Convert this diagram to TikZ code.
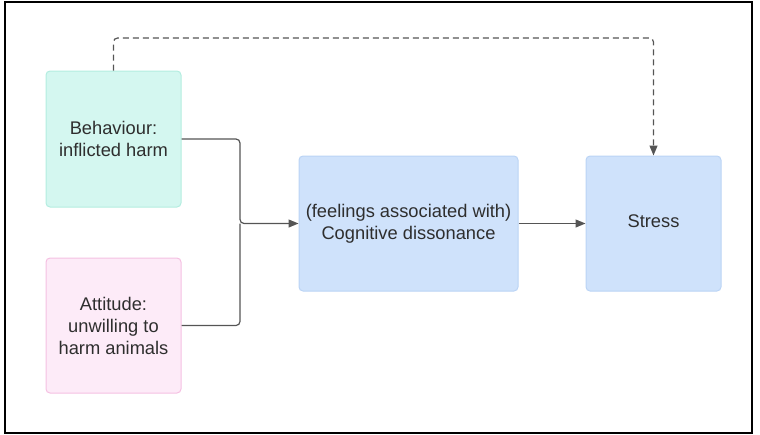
\documentclass[tikz,border=0pt]{standalone}
\usepackage{fontspec}
\setmainfont{Liberation Sans}
\usetikzlibrary{arrows.meta}
\definecolor{tealfill}{HTML}{D4F7F0}
\definecolor{tealdraw}{HTML}{B3EDE0}
\definecolor{pinkfill}{HTML}{FDEBF8}
\definecolor{pinkdraw}{HTML}{F5C0E2}
\definecolor{bluefill}{HTML}{CFE2FB}
\definecolor{bluedraw}{HTML}{BBD4F5}
\definecolor{txt}{HTML}{2E2E2E}
\definecolor{conn}{HTML}{555555}
\tikzset{
  x=1pt, y=-1pt,
  box/.style={rectangle, rounded corners=4pt, line width=1pt, inner sep=0pt, align=center,
    font=\fontsize{18.3}{22}\selectfont, text=txt},
  link/.style={draw=conn, line width=1.2pt, rounded corners=4pt, -{Triangle[length=10pt,width=8pt]}},
  dlink/.style={link, dashed, dash pattern=on 6pt off 4pt},
}
\begin{document}
\begin{tikzpicture}
\useasboundingbox (0,0) rectangle (760,434);
\draw[line width=1.8pt, black] (5,2) rectangle (752,433);
\node[box, fill=tealfill, draw=tealdraw, minimum width=135pt, minimum height=136pt] (beh) at (113.5,139) {Behaviour:\\inflicted harm};
\node[box, fill=pinkfill, draw=pinkdraw, minimum width=135pt, minimum height=135pt] (att) at (113.5,325.5) {Attitude:\\unwilling to\\harm animals};
\node[box, fill=bluefill, draw=bluedraw, minimum width=219pt, minimum height=135pt] (cog) at (408.5,223.5) {(feelings associated with)\\Cognitive dissonance};
\node[box, fill=bluefill, draw=bluedraw, minimum width=135pt, minimum height=135pt] (str) at (653.5,223.5) {Stress\vphantom{g}};
\coordinate (j) at (240,223.5);
\draw[link] (beh.east) -| (j) -- (cog.west);
\draw[draw=conn, line width=1.2pt, rounded corners=4pt] (att.east) -| (j);
\draw[link] (cog.east) -- (str.west);
\draw[dlink] (beh.north) |- (str.north |- 0,38) -- (str.north);
\end{tikzpicture}
\end{document}
